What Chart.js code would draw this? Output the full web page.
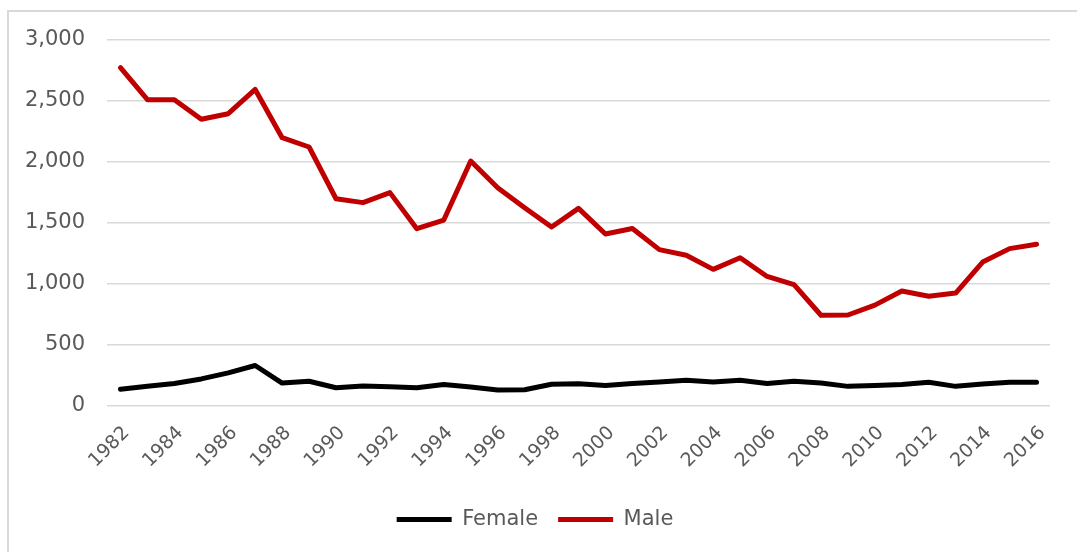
<!DOCTYPE html>
<html>
<head>
<meta charset="utf-8">
<script src="https://cdn.jsdelivr.net/npm/chart.js@4.4.1/dist/chart.umd.min.js"></script>
<style>
    html, body { margin: 0; padding: 0; background: #fff; }
    #frame {
        position: absolute; left: 7px; top: 10px;
        width: 1100px; height: 600px;
        border-left: 2px solid #d9d9d9; border-top: 2px solid #d9d9d9;
    }
    #wrap { position: absolute; left: 0; top: 0; width: 1077px; height: 552px; }
</style>
</head>
<body>
<div id="frame"></div>
<div id="wrap"><canvas id="chart"></canvas></div>
<script>
// years on the x axis
const years = [
    "1982", "1983", "1984", "1985", "1986", "1987", "1988", "1989", "1990", "1991",
    "1992", "1993", "1994", "1995", "1996", "1997", "1998", "1999", "2000", "2001",
    "2002", "2003", "2004", "2005", "2006", "2007", "2008", "2009", "2010", "2011",
    "2012", "2013", "2014", "2015", "2016"
];

// values
const female = [
    137, 162, 185, 222, 272, 332, 188, 203, 150, 164,
    158, 150, 176, 156, 131, 133, 178, 183, 169, 185,
    197, 211, 197, 211, 185, 203, 188, 161, 169, 176,
    195, 161, 180, 195, 195
];
const male = [
    2773, 2511, 2511, 2350, 2396, 2595, 2199, 2123, 1699, 1667,
    1749, 1453, 1524, 2008, 1789, 1625, 1467, 1620, 1410, 1455,
    1282, 1236, 1120, 1215, 1062, 995, 744, 746, 827, 942,
    899, 926, 1180, 1290, 1326
];

const yTicks = [0, 500, 1000, 1500, 2000, 2500, 3000];

const FONT = "'DejaVu Sans', sans-serif";
const GREY = "#595959";

document.addEventListener("DOMContentLoaded", () => {
    const ctx = document.getElementById("chart").getContext("2d");

    new Chart(ctx, {
        type: "line",
        data: {
            labels: years,
            datasets: [
                {
                    label: "Female",
                    data: female,
                    borderColor: "#000000",
                    backgroundColor: "#000000",
                    borderWidth: 5,
                    borderCapStyle: "round",
                    borderJoinStyle: "round",
                    pointRadius: 0,
                    tension: 0
                },
                {
                    label: "Male",
                    data: male,
                    borderColor: "#c00000",
                    backgroundColor: "#c00000",
                    borderWidth: 5,
                    borderCapStyle: "round",
                    borderJoinStyle: "round",
                    pointRadius: 0,
                    tension: 0
                }
            ]
        },
        options: {
            responsive: true,
            maintainAspectRatio: false,
            animation: false,
            layout: { padding: { left: 20, top: 40, right: 27, bottom: 12 } },
            plugins: {
                tooltip: { enabled: false },
                legend: {
                    position: "bottom",
                    labels: {
                        usePointStyle: true,
                        pointStyle: "line",
                        pointStyleWidth: 55,
                        color: GREY,
                        font: { family: FONT, size: 21 },
                        padding: 20
                    }
                }
            },
            scales: {
                x: {
                    offset: true,
                    grid: { display: false },
                    border: { display: false },
                    ticks: {
                        autoSkip: false,
                        minRotation: 45,
                        maxRotation: 45,
                        color: GREY,
                        font: { family: FONT, size: 19 },
                        padding: 8,
                        labelOffset: 6,
                        callback: (v, i) => (i % 2 === 0 ? years[i] : "")
                    },
                    afterFit: (scale) => { scale.height = 83; }
                },
                y: {
                    min: 0,
                    max: 3000,
                    afterBuildTicks: (scale) => { scale.ticks = yTicks.map(v => ({ value: v })); },
                    grid: { color: "#d9d9d9", lineWidth: 1.5, drawTicks: false },
                    border: { display: false },
                    ticks: {
                        color: GREY,
                        font: { family: FONT, size: 21 },
                        padding: 22,
                        callback: (v) => v.toLocaleString("en-US")
                    },
                    afterFit: (scale) => { scale.width = 87; }
                }
            }
        }
    });
});
</script>
</body>
</html>
